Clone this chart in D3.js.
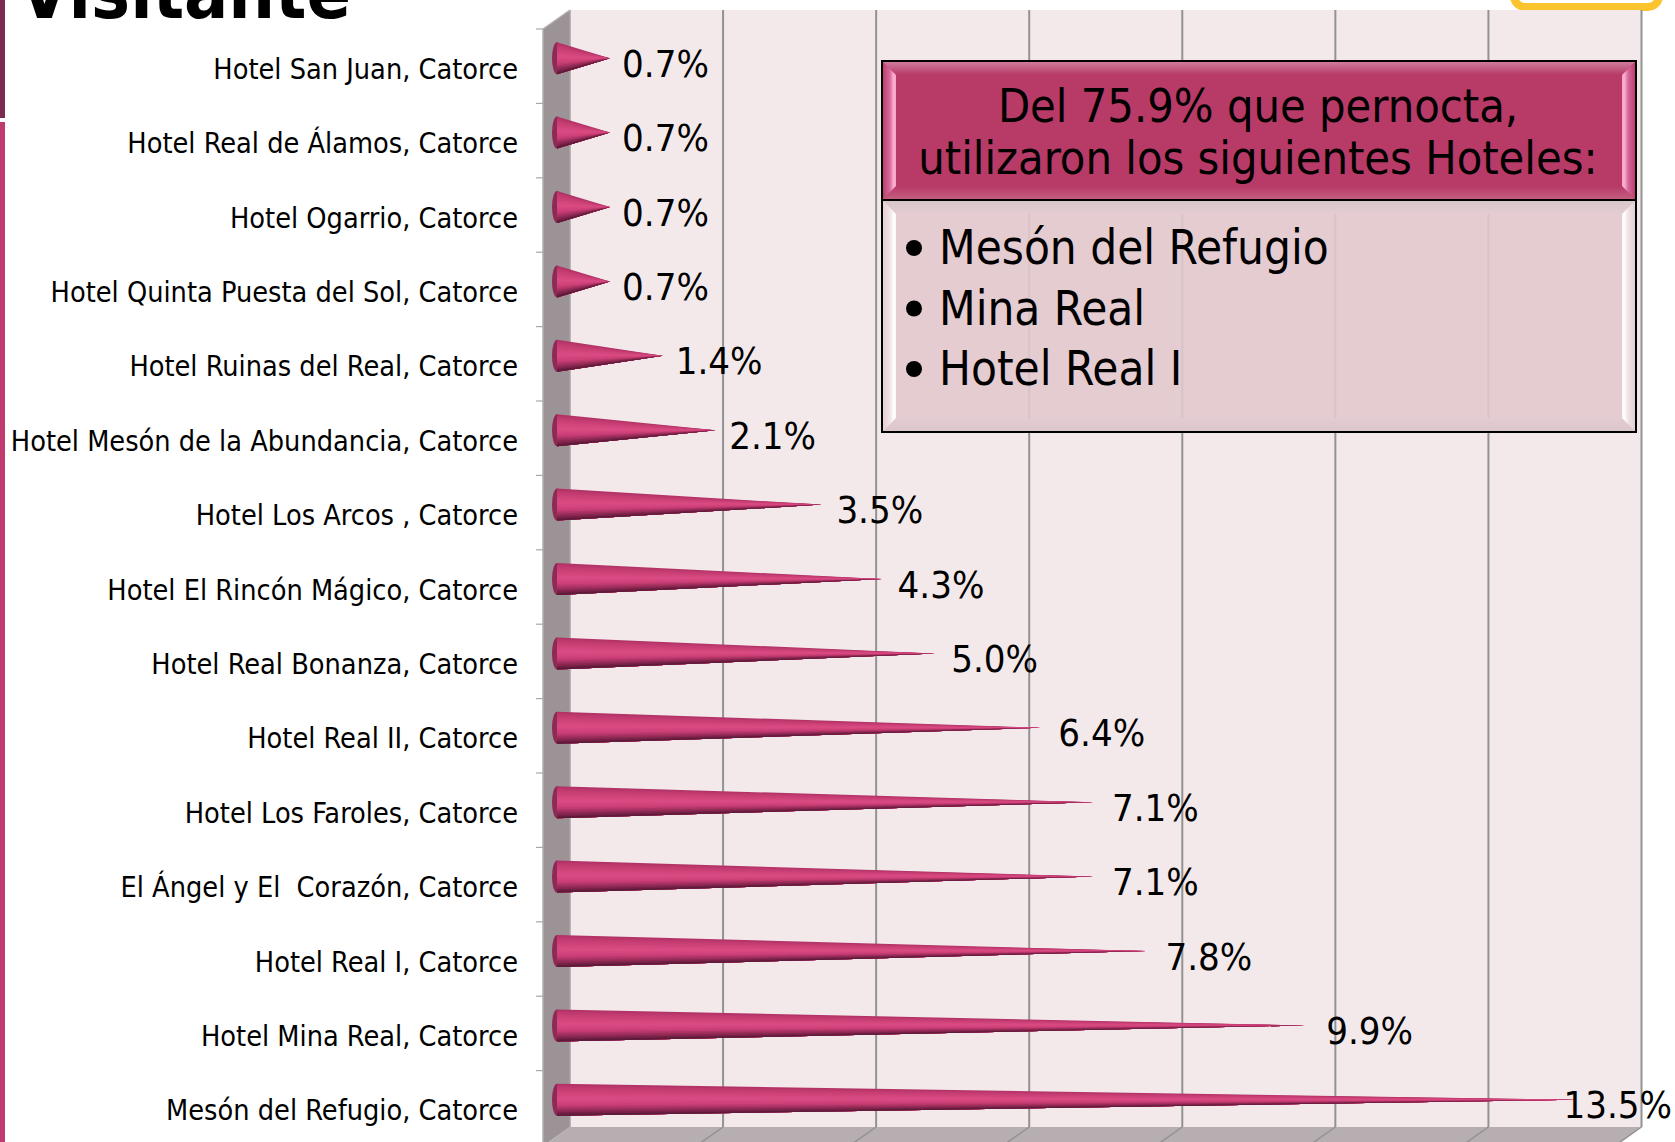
<!DOCTYPE html>
<html><head><meta charset="utf-8">
<script src="https://cdnjs.cloudflare.com/ajax/libs/d3/7.8.5/d3.min.js"></script>
<style>html,body{margin:0;padding:0;background:#fff;overflow:hidden}
svg{display:block}
text{font-family:"DejaVu Sans Condensed","DejaVu Sans";font-stretch:condensed;fill:#000;white-space:pre}
</style></head><body><svg id="c" width="1675" height="1142"></svg>
<script>
const categories=["Hotel San Juan, Catorce","Hotel Real de Álamos, Catorce","Hotel Ogarrio, Catorce","Hotel Quinta Puesta del Sol, Catorce","Hotel Ruinas del Real, Catorce","Hotel Mesón de la Abundancia, Catorce","Hotel Los Arcos , Catorce","Hotel El Rincón Mágico, Catorce","Hotel Real Bonanza, Catorce","Hotel Real II, Catorce","Hotel Los Faroles, Catorce","El Ángel y El  Corazón, Catorce","Hotel Real I, Catorce","Hotel Mina Real, Catorce","Mesón del Refugio, Catorce"];
const values=[0.7,0.7,0.7,0.7,1.4,2.1,3.5,4.3,5.0,6.4,7.1,7.1,7.8,9.9,13.5];
const gridTicks=[0,2,4,6,8,10,12,14];
const boxTitle=["Del 75.9% que pernocta,","utilizaron los siguientes Hoteles:"];
const boxItems=["Mesón del Refugio","Mina Real","Hotel Real I"];
const titleText="Visitante";

const svg=d3.select("#c");
const defs=svg.append("defs");
const grad=(id,dir,stops)=>{
  const g=defs.append("linearGradient").attr("id",id).attr("x1",dir==="l"?1:0).attr("x2",dir==="r"?1:0).attr("y1",dir==="u"?1:0).attr("y2",dir==="d"?1:0);
  stops.forEach(s=>g.append("stop").attr("offset",s[0]).attr("stop-color",s[1]));
};
const hs=[[0,"#b73a67"],[.55,"#d5679a"],[.85,"#ffb2d2"],[1,"#f7a3c6"]];
const bs=[[0,"#e4cdd2"],[.55,"#f0e2e5"],[.85,"#ffffff"],[1,"#fbf4f6"]];
grad("hR","r",hs);grad("hL","l",hs);grad("bR","r",bs);grad("bL","l",bs);
grad("hT","d",[[0,"#d0809f"],[1,"#b73a67"]]);grad("hB","u",[[0,"#c4607f"],[1,"#b73a67"]]);
grad("bT","d",[[0,"#d5c5c8"],[1,"#e4cdd2"]]);grad("bB","u",[[0,"#d9c6ca"],[1,"#e4cdd2"]]);

const depthX=27,depthY=19;
const x=d3.scaleLinear().domain([0,14]).range([570,1641.5]);
const coneLen=d3.scaleLinear().domain([0,14]).range([0,1057]);
const y=d3.scaleBand().domain(categories).range([29,1145]);
const wallTop=10,floorY=1127;

// page decorations
svg.append("rect").attr("x",0).attr("y",0).attr("width",5).attr("height",118).attr("fill","#7c2a50");
svg.append("rect").attr("x",0).attr("y",122).attr("width",5).attr("height",1020).attr("fill","#c03a70");
svg.append("rect").attr("x",1514).attr("y",-30).attr("width",145).attr("height",37).attr("rx",11).attr("fill","#fff").attr("stroke","#fcc42c").attr("stroke-width",8);
svg.append("text").text(titleText).attr("x",19).attr("y",18).attr("font-size",73).attr("font-weight",700).style("font-family",'"DejaVu Sans"').style("font-stretch","condensed");

// 3D frame
const poly=(pts,fill,parent)=>(parent||svg).append("polygon").attr("points",pts.map(p=>p.join(",")).join(" ")).attr("fill",fill);
poly([[x(0),wallTop],[x(14),wallTop],[x(14),floorY],[x(0),floorY]],"#f3e9eb");
poly([[x(0),wallTop],[x(0),floorY],[x(0)-depthX,floorY+depthY],[x(0)-depthX,wallTop+depthY]],"#9c9396");
poly([[x(0),floorY],[x(14),floorY],[x(14)-depthX,floorY+depthY],[x(0)-depthX,floorY+depthY]],"#b7aeb1");
svg.append("line").attr("x1",x(0)-depthX).attr("x2",x(0)-depthX).attr("y1",wallTop+depthY).attr("y2",floorY+depthY).attr("stroke","#b5aeb0").attr("stroke-width",1.5);
svg.append("line").attr("x1",x(0)).attr("x2",x(0)).attr("y1",wallTop).attr("y2",floorY).attr("stroke","#aaa3a5").attr("stroke-width",1.5);
svg.append("line").attr("x1",x(0)).attr("y1",wallTop).attr("x2",x(0)-depthX).attr("y2",wallTop+depthY).attr("stroke","#b5aeb0").attr("stroke-width",1.5);
const grid=svg.append("g");
grid.selectAll("line.v").data(gridTicks.slice(1)).join("line").attr("class","v")
 .attr("x1",d=>x(d)).attr("x2",d=>x(d)).attr("y1",wallTop).attr("y2",floorY).attr("stroke","#929292").attr("stroke-width",2);
grid.selectAll("line.d").data(gridTicks.slice(1)).join("line").attr("class","d")
 .attr("x1",d=>x(d)).attr("x2",d=>x(d)-depthX).attr("y1",floorY).attr("y2",floorY+depthY).attr("stroke","#929292").attr("stroke-width",1.5);
// category ticks
svg.selectAll("line.t").data(categories).join("line").attr("class","t")
 .attr("x1",x(0)-depthX-7).attr("x2",x(0)-depthX).attr("y1",d=>y(d)).attr("y2",d=>y(d)).attr("stroke","#a8a8a8").attr("stroke-width",1.2);
// category labels
svg.selectAll("text.cat").data(categories).join("text").attr("class","cat").text(d=>d)
 .attr("x",518).attr("y",d=>y(d)+y.bandwidth()/2+12.5).attr("text-anchor","end").attr("font-size",28.6);

// cones
const shade=d3.scaleLinear().domain([0,0.12,0.45,0.66,0.88,1]).range(["#ad3063","#c23b70","#dc4c84","#cb3f76","#84254d","#521733"]);
const baseX=x(0)-13,ry=16,rx=5,lift=8,N=18;
const cones=svg.selectAll("g.cone").data(values.map((v,i)=>({v,c:categories[i]}))).join("g").attr("class","cone");
cones.each(function(d){
  const g=d3.select(this),cy=y(d.c)+y.bandwidth()/2-lift,tipX=baseX+coneLen(d.v);
  g.append("ellipse").attr("cx",baseX).attr("cy",cy).attr("rx",rx).attr("ry",ry).attr("fill","#8f2a55");
  for(let k=0;k<N;k++){
    const a=cy-ry+2*ry*k/N,col=shade((k+.5)/N);
    g.append("polygon").attr("points",`${tipX},${cy} ${baseX},${a} ${baseX},${cy+ry}`).attr("fill",col);
  }
});
// value labels
svg.selectAll("text.val").data(values.map((v,i)=>({v,c:categories[i]}))).join("text").attr("class","val")
 .text(d=>d.v.toFixed(1)+"%")
 .attr("x",d=>Math.min(x(d.v),1565)-1.5).attr("y",d=>y(d.c)+y.bandwidth()/2+10.5).attr("font-size",38);

// table
const bx=882,bw=754,by=61,hh=139,bh=232,bev=14;
const panel=(g,x0,y0,w,h,fill,op,pre)=>{
  const x1=x0+w,y1=y0+h;
  g.append("rect").attr("x",x0).attr("y",y0).attr("width",w).attr("height",h).attr("fill",fill).attr("fill-opacity",op);
  poly([[x0,y0],[x1,y0],[x1-bev,y0+bev],[x0+bev,y0+bev]],`url(#${pre}T)`,g).attr("fill-opacity",op);
  poly([[x0,y1],[x1,y1],[x1-bev,y1-bev],[x0+bev,y1-bev]],`url(#${pre}B)`,g).attr("fill-opacity",op);
  poly([[x0,y0],[x0+bev,y0+bev],[x0+bev,y1-bev],[x0,y1]],`url(#${pre}R)`,g);
  poly([[x1,y0],[x1-bev,y0+bev],[x1-bev,y1-bev],[x1,y1]],`url(#${pre}L)`,g);
};
panel(svg.append("g"),bx,by+hh,bw,bh,"#e2c9ce",.9,"b");
panel(svg.append("g"),bx,by,bw,hh,"#b73a67",1,"h");
svg.append("rect").attr("x",bx).attr("y",by).attr("width",bw).attr("height",hh+bh).attr("fill","none").attr("stroke","#000").attr("stroke-width",2);
svg.append("line").attr("x1",bx).attr("x2",bx+bw).attr("y1",by+hh).attr("y2",by+hh).attr("stroke","#000").attr("stroke-width",2);
svg.selectAll("text.bt").data(boxTitle).join("text").attr("class","bt").text(d=>d)
 .attr("x",bx+bw/2-1).attr("y",(d,i)=>122+i*51.5).attr("text-anchor","middle").attr("font-size",46.5);
svg.selectAll("text.bi").data(boxItems).join("text").attr("class","bi").text(d=>d)
 .attr("x",939).attr("y",(d,i)=>264+i*60.5).attr("font-size",47.2);
svg.selectAll("circle.bu").data(boxItems).join("circle").attr("class","bu")
 .attr("cx",914).attr("cy",(d,i)=>248+i*60.5).attr("r",8).attr("fill","#000");
</script></body></html>
